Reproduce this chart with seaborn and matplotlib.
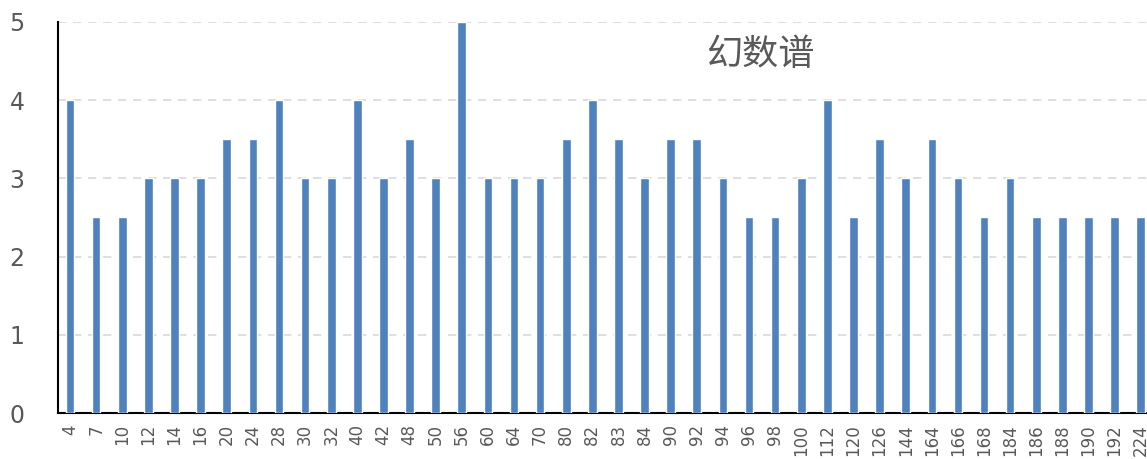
import matplotlib
matplotlib.use('Agg')
import matplotlib.pyplot as plt
import seaborn as sns
import pandas as pd

# Magic-number spectrum data
categories = ['4', '7', '10', '12', '14', '16', '20', '24', '28', '30', '32', '40', '42', '48',
              '50', '56', '60', '64', '70', '80', '82', '83', '84', '90', '92', '94', '96', '98',
              '100', '112', '120', '126', '144', '164', '166', '168', '184', '186', '188', '190',
              '192', '224']
values = [4, 2.5, 2.5, 3, 3, 3, 3.5, 3.5, 4, 3, 3, 4, 3, 3.5,
          3, 5, 3, 3, 3, 3.5, 4, 3.5, 3, 3.5, 3.5, 3, 2.5, 2.5,
          3, 4, 2.5, 3.5, 3, 3.5, 3, 2.5, 3, 2.5, 2.5, 2.5,
          2.5, 2.5]
title_text = '幻数谱'

df = pd.DataFrame({'n': categories, 'v': values})

sns.set_style('white')
plt.rcParams['font.family'] = ['Noto Sans CJK SC', 'DejaVu Sans']

fig = plt.figure(figsize=(11.47, 4.59), dpi=100)
ax = fig.add_axes([0.0506, 0.1002, 0.9494, 0.852])

sns.barplot(data=df, x='n', y='v', order=categories, color='#4F81BD',
            width=0.33, saturation=1, ax=ax, zorder=3)

ax.set_ylim(0, 5)
ax.set_xlim(-0.46, 41.24)
ax.set_yticks([0, 1, 2, 3, 4, 5])
ax.yaxis.grid(True, color='#D9D9D9', linestyle=(0, (5, 4)), linewidth=1.2, zorder=0)
ax.xaxis.grid(False)
ax.set_axisbelow(True)

for s in ['top', 'right']:
    ax.spines[s].set_visible(False)
ax.spines['left'].set_color('black')
ax.spines['bottom'].set_color('black')
ax.spines['left'].set_linewidth(1.5)
ax.spines['bottom'].set_linewidth(1.5)

ax.set_xlabel('')
ax.set_ylabel('')
ax.tick_params(axis='y', length=0, pad=24, labelsize=17, labelcolor='#595959')
ax.tick_params(axis='x', length=0, pad=8, labelsize=12, labelcolor='#595959', rotation=90)
for lab in ax.get_yticklabels() + ax.get_xticklabels():
    lab.set_family(['DejaVu Sans'])

ax.text(0.645, 0.915, title_text, transform=ax.transAxes, fontsize=26,
        color='#595959', ha='center', va='center')

fig.savefig('out.png', dpi=100)
